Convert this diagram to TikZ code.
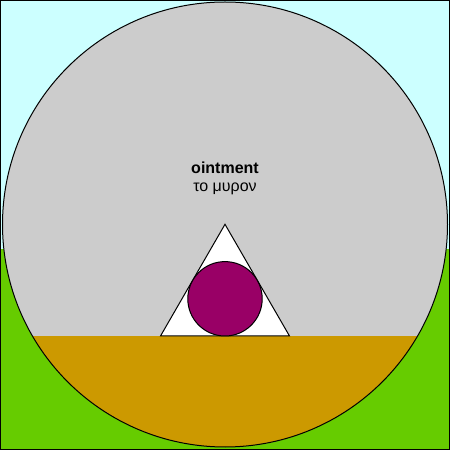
\documentclass[tikz,border=0pt]{standalone}
\usepackage{fontspec}
\usepackage{tikz}
\usetikzlibrary{positioning}
\usepackage{xcolor}
\newfontfamily\labelfont{Liberation Sans}
\definecolor{skycyan}{HTML}{CCFFFF}
\definecolor{grassgreen}{HTML}{66CC00}
\definecolor{jargray}{HTML}{CCCCCC}
\definecolor{oilbrown}{HTML}{CC9900}
\definecolor{dropplum}{HTML}{990066}
\tikzset{
    outline/.style={draw=black, line width=1pt},
    caption/.style={font=\labelfont\fontsize{16}{19}\selectfont, inner sep=0pt, anchor=base}
}

\begin{document}
\begin{tikzpicture}[x=1pt, y=1pt]
        \useasboundingbox (0,0) rectangle (450,450);
        % Draw background
        \fill[skycyan] (0,201) rectangle (450,450);
        \fill[grassgreen] (0,0) rectangle (450,201);

        % Draw big circle
        \coordinate (ctr) at (225,225.5);
        \fill[jargray] (ctr) circle[radius=222.5pt];
        \begin{scope}
            \clip (ctr) circle[radius=222.5pt];
            \fill[oilbrown] (0,0) rectangle (450,114);
        \end{scope}
        \draw[outline] (ctr) circle[radius=222.5pt];

        % Triangle and inner circle
        \coordinate (apex) at (225,225.7);
        \coordinate (left) at (160.5,114);
        \coordinate (right) at (289.5,114);
        \draw[outline, fill=white] (apex) -- (left) -- (right) -- cycle;
        \draw[outline, fill=dropplum] (225,151.2) circle[radius=37.2pt];

        % Labels
        \node[caption] (eng) at (225,276) {\bfseries ointment};
        \node[caption] (grk) at (225,258) {το μυρον};

        % Frame
        \draw[black, line width=1pt] (0.5,0.5) rectangle (449.5,449.5);
    \end{tikzpicture}
\end{document}
